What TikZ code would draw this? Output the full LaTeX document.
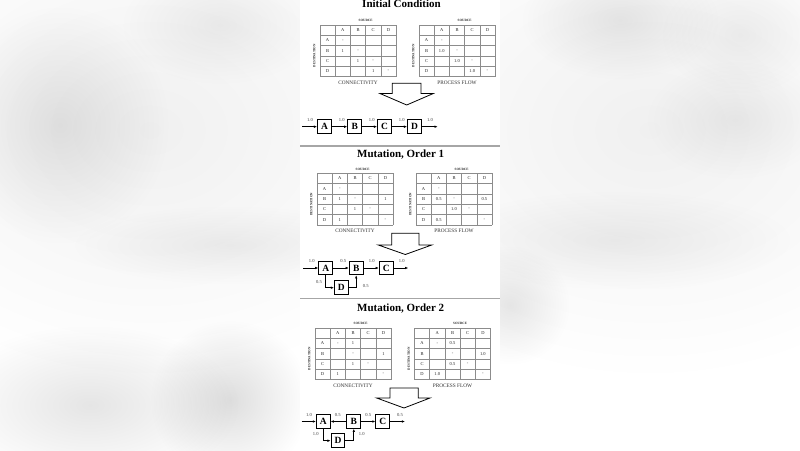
\documentclass[tikz,border=0pt]{standalone}
\usepackage{fontspec}
\setmainfont{Liberation Serif}
\usetikzlibrary{arrows.meta,fadings}
\tikzfading[name=softblob, inner color=transparent!0, outer color=transparent!100]
\def\cw{15.2}
\def\ch{10.3}
\tikzset{
  gridline/.style={draw=black!45, line width=0.5pt},
  cellt/.style={inner sep=0pt, font=\fontsize{4.5}{5}\selectfont, text=black!85},
  srct/.style={inner sep=0pt, font=\bfseries\fontsize{3.3}{3.6}\selectfont, text=black!85},
  capt/.style={inner sep=0pt, font=\fontsize{5.3}{6}\selectfont, text=black!80},
  titlet/.style={inner sep=0pt, anchor=base, font=\bfseries\fontsize{11}{12}\selectfont},
  procbox/.style={draw, fill=white, line width=0.9pt, minimum width=13.8pt, minimum height=13.6pt, inner sep=0pt, font=\bfseries\fontsize{9.5}{10}\selectfont},
  flow/.style={draw, line width=0.7pt, -{Latex[length=3.2pt,width=2.6pt]}},
  flowlab/.style={inner sep=0pt, font=\fontsize{4.6}{5}\selectfont, text=black!75},
  bigarrow/.style={draw, fill=white, line width=0.8pt, line join=miter},
  sepline/.style={draw=black!35, line width=1.6pt},
  blob/.style={fill=black, path fading=softblob}
}
\newcommand{\datatable}[5]{%
\begin{scope}[shift={(#2,#3)}]
  \foreach \i in {0,...,5} {
    \draw[gridline] ({\i*\cw},0) -- ({\i*\cw},{5*\ch});
    \draw[gridline] (0,{\i*\ch}) -- ({5*\cw},{\i*\ch});
  }
  \foreach \L [count=\k] in {A,B,C,D} {
    \node[cellt] (#1-h\k) at ({(\k+0.5)*\cw},{0.5*\ch}) {\L};
    \node[cellt] (#1-r\k) at ({0.5*\cw},{(\k+0.5)*\ch}) {\L};
  }
  \node[srct] (#1-src) at ({3*\cw},-4.2) {SOURCE};
  \node[srct, rotate=90] (#1-dst) at (-5.6,{3*\ch}) {DESTINATION};
  \node[capt] (#1-cap) at ({2.5*\cw},{5*\ch+5.8}) {#4};
  \foreach \ro/\co/\tx [count=\n] in {#5}
    \node[cellt] (#1-e\n) at ({(\co+0.5)*\cw},{(\ro+0.5)*\ch}) {\tx};
\end{scope}}
\begin{document}
\begin{tikzpicture}[x=1pt, y=-1pt]
\useasboundingbox (0,0) rectangle (800,450);
\fill[white] (0,0) rectangle (800,450);
% blurred backdrop
\fill[blob, opacity=0.06] (150,130) ellipse [x radius=330, y radius=250];
\fill[blob, opacity=0.06] (650,130) ellipse [x radius=330, y radius=250];
\fill[blob, opacity=0.09] (60,125) ellipse [x radius=110, y radius=120];
\fill[blob, opacity=0.06] (220,25) ellipse [x radius=100, y radius=60];
\fill[blob, opacity=0.06] (230,245) ellipse [x radius=160, y radius=40];
\fill[blob, opacity=0.10] (90,405) ellipse [x radius=150, y radius=80];
\fill[blob, opacity=0.13] (230,400) ellipse [x radius=80, y radius=80];
\fill[blob, opacity=0.08] (620,20) ellipse [x radius=100, y radius=60];
\fill[blob, opacity=0.05] (740,35) ellipse [x radius=80, y radius=60];
\fill[blob, opacity=0.06] (735,120) ellipse [x radius=90, y radius=60];
\fill[blob, opacity=0.06] (615,240) ellipse [x radius=180, y radius=50];
\fill[blob, opacity=0.09] (510,305) ellipse [x radius=60, y radius=60];
% white column
\fill[white] (300,0) rectangle (500,450);
\draw[sepline] (300,145.7) -- (500,145.7);
\draw[sepline] (300,298.6) -- (500,298.6);

% ===== Initial condition =====
\node[titlet] (title1) at (401.5,7.4) {Initial Condition};
\datatable{c1}{320}{25}{CONNECTIVITY}{1/1/-,2/1/1,2/2/-,3/2/1,3/3/-,4/3/1,4/4/-}
\datatable{p1}{419}{25}{PROCESS FLOW}{1/1/-,2/1/1.0,2/2/-,3/2/1.0,3/3/-,4/3/1.0,4/4/-}
\draw[bigarrow] (392.3,83.3) -- (421,83.3) -- (421,93.5) -- (433.3,93.5) -- (406.7,105) -- (380,93.5) -- (392.3,93.5) -- cycle;
\node[procbox] (a1) at (324.5,126.7) {A};
\node[procbox] (b1) at (354.7,126.7) {B};
\node[procbox] (c1) at (384.5,126.7) {C};
\node[procbox] (d1) at (414.5,126.7) {D};
\coordinate (in1) at (302,126.7);
\coordinate (out1) at (437.7,126.7);
\draw[flow] (in1) -- (a1);
\draw[flow] (a1) -- (b1);
\draw[flow] (b1) -- (c1);
\draw[flow] (c1) -- (d1);
\draw[flow] (d1) -- (out1);
\node[flowlab] (l11) at (310,120.3) {1.0};
\node[flowlab] (l12) at (341.7,120.3) {1.0};
\node[flowlab] (l13) at (371.7,120.3) {1.0};
\node[flowlab] (l14) at (401.7,120.3) {1.0};
\node[flowlab] (l15) at (430,120.3) {1.0};

% ===== Mutation, Order 1 =====
\node[titlet] (title2) at (400.7,157) {Mutation, Order 1};
\datatable{c2}{317}{173.3}{CONNECTIVITY}{1/1/-,2/1/1,2/2/-,2/4/1,3/2/1,3/3/-,4/1/1,4/4/-}
\datatable{p2}{416}{173.3}{PROCESS FLOW}{1/1/-,2/1/0.5,2/2/-,2/4/0.5,3/2/1.0,3/3/-,4/1/0.5,4/4/-}
\draw[bigarrow] (391.7,233.3) -- (419,233.3) -- (419,245) -- (431.7,245) -- (405.3,254.5) -- (378.3,245) -- (391.7,245) -- cycle;
\node[procbox] (a2) at (325.7,268) {A};
\node[procbox] (b2) at (356.2,268) {B};
\node[procbox] (c2) at (386.2,268) {C};
\node[procbox] (d2) at (341.3,287.7) {D};
\coordinate (in2) at (303.3,268);
\coordinate (out2) at (408.3,268);
\draw[flow] (in2) -- (a2);
\draw[flow] (a2) -- (b2);
\draw[flow] (b2) -- (c2);
\draw[flow] (c2) -- (out2);
\draw[flow] (a2.south) |- (d2.west);
\draw[flow] (d2.east) -| (b2.south);
\node[flowlab] (l21) at (311.7,261.3) {1.0};
\node[flowlab] (l22) at (343.3,261.3) {0.5};
\node[flowlab] (l23) at (371.7,261.3) {1.0};
\node[flowlab] (l24) at (401.7,261.3) {1.0};
\node[flowlab] (l25) at (319,282.3) {0.5};
\node[flowlab] (l26) at (365.7,285.7) {0.5};

% ===== Mutation, Order 2 =====
\node[titlet] (title3) at (400.7,311.3) {Mutation, Order 2};
\datatable{c3}{315}{328}{CONNECTIVITY}{1/1/-,1/2/1,2/2/-,2/4/1,3/2/1,3/3/-,4/1/1,4/4/-}
\datatable{p3}{414.5}{328}{PROCESS FLOW}{1/1/-,1/2/0.5,2/2/-,2/4/1.0,3/2/0.5,3/3/-,4/1/1.0,4/4/-}
\draw[bigarrow] (390,388) -- (418.3,388) -- (418.3,398) -- (430,398) -- (404,408) -- (376.7,398) -- (390,398) -- cycle;
\node[procbox] (a3) at (323.3,421.5) {A};
\node[procbox] (b3) at (353.8,421.5) {B};
\node[procbox] (c3) at (382.8,421.5) {C};
\node[procbox] (d3) at (338,440.7) {D};
\coordinate (in3) at (301.7,421.5);
\coordinate (out3) at (405,421.5);
\draw[flow] (in3) -- (a3);
\draw[flow] (b3) -- (a3);
\draw[flow] (b3) -- (c3);
\draw[flow] (c3) -- (out3);
\draw[flow] (a3.south) |- (d3.west);
\draw[flow] (d3.east) -| (b3.south);
\node[flowlab] (l31) at (309,415.3) {1.0};
\node[flowlab] (l32) at (337.7,415.3) {0.5};
\node[flowlab] (l33) at (368.3,415.3) {0.5};
\node[flowlab] (l34) at (400,415.3) {0.5};
\node[flowlab] (l35) at (315.7,434) {1.0};
\node[flowlab] (l36) at (361.7,434) {1.0};
\end{tikzpicture}
\end{document}
